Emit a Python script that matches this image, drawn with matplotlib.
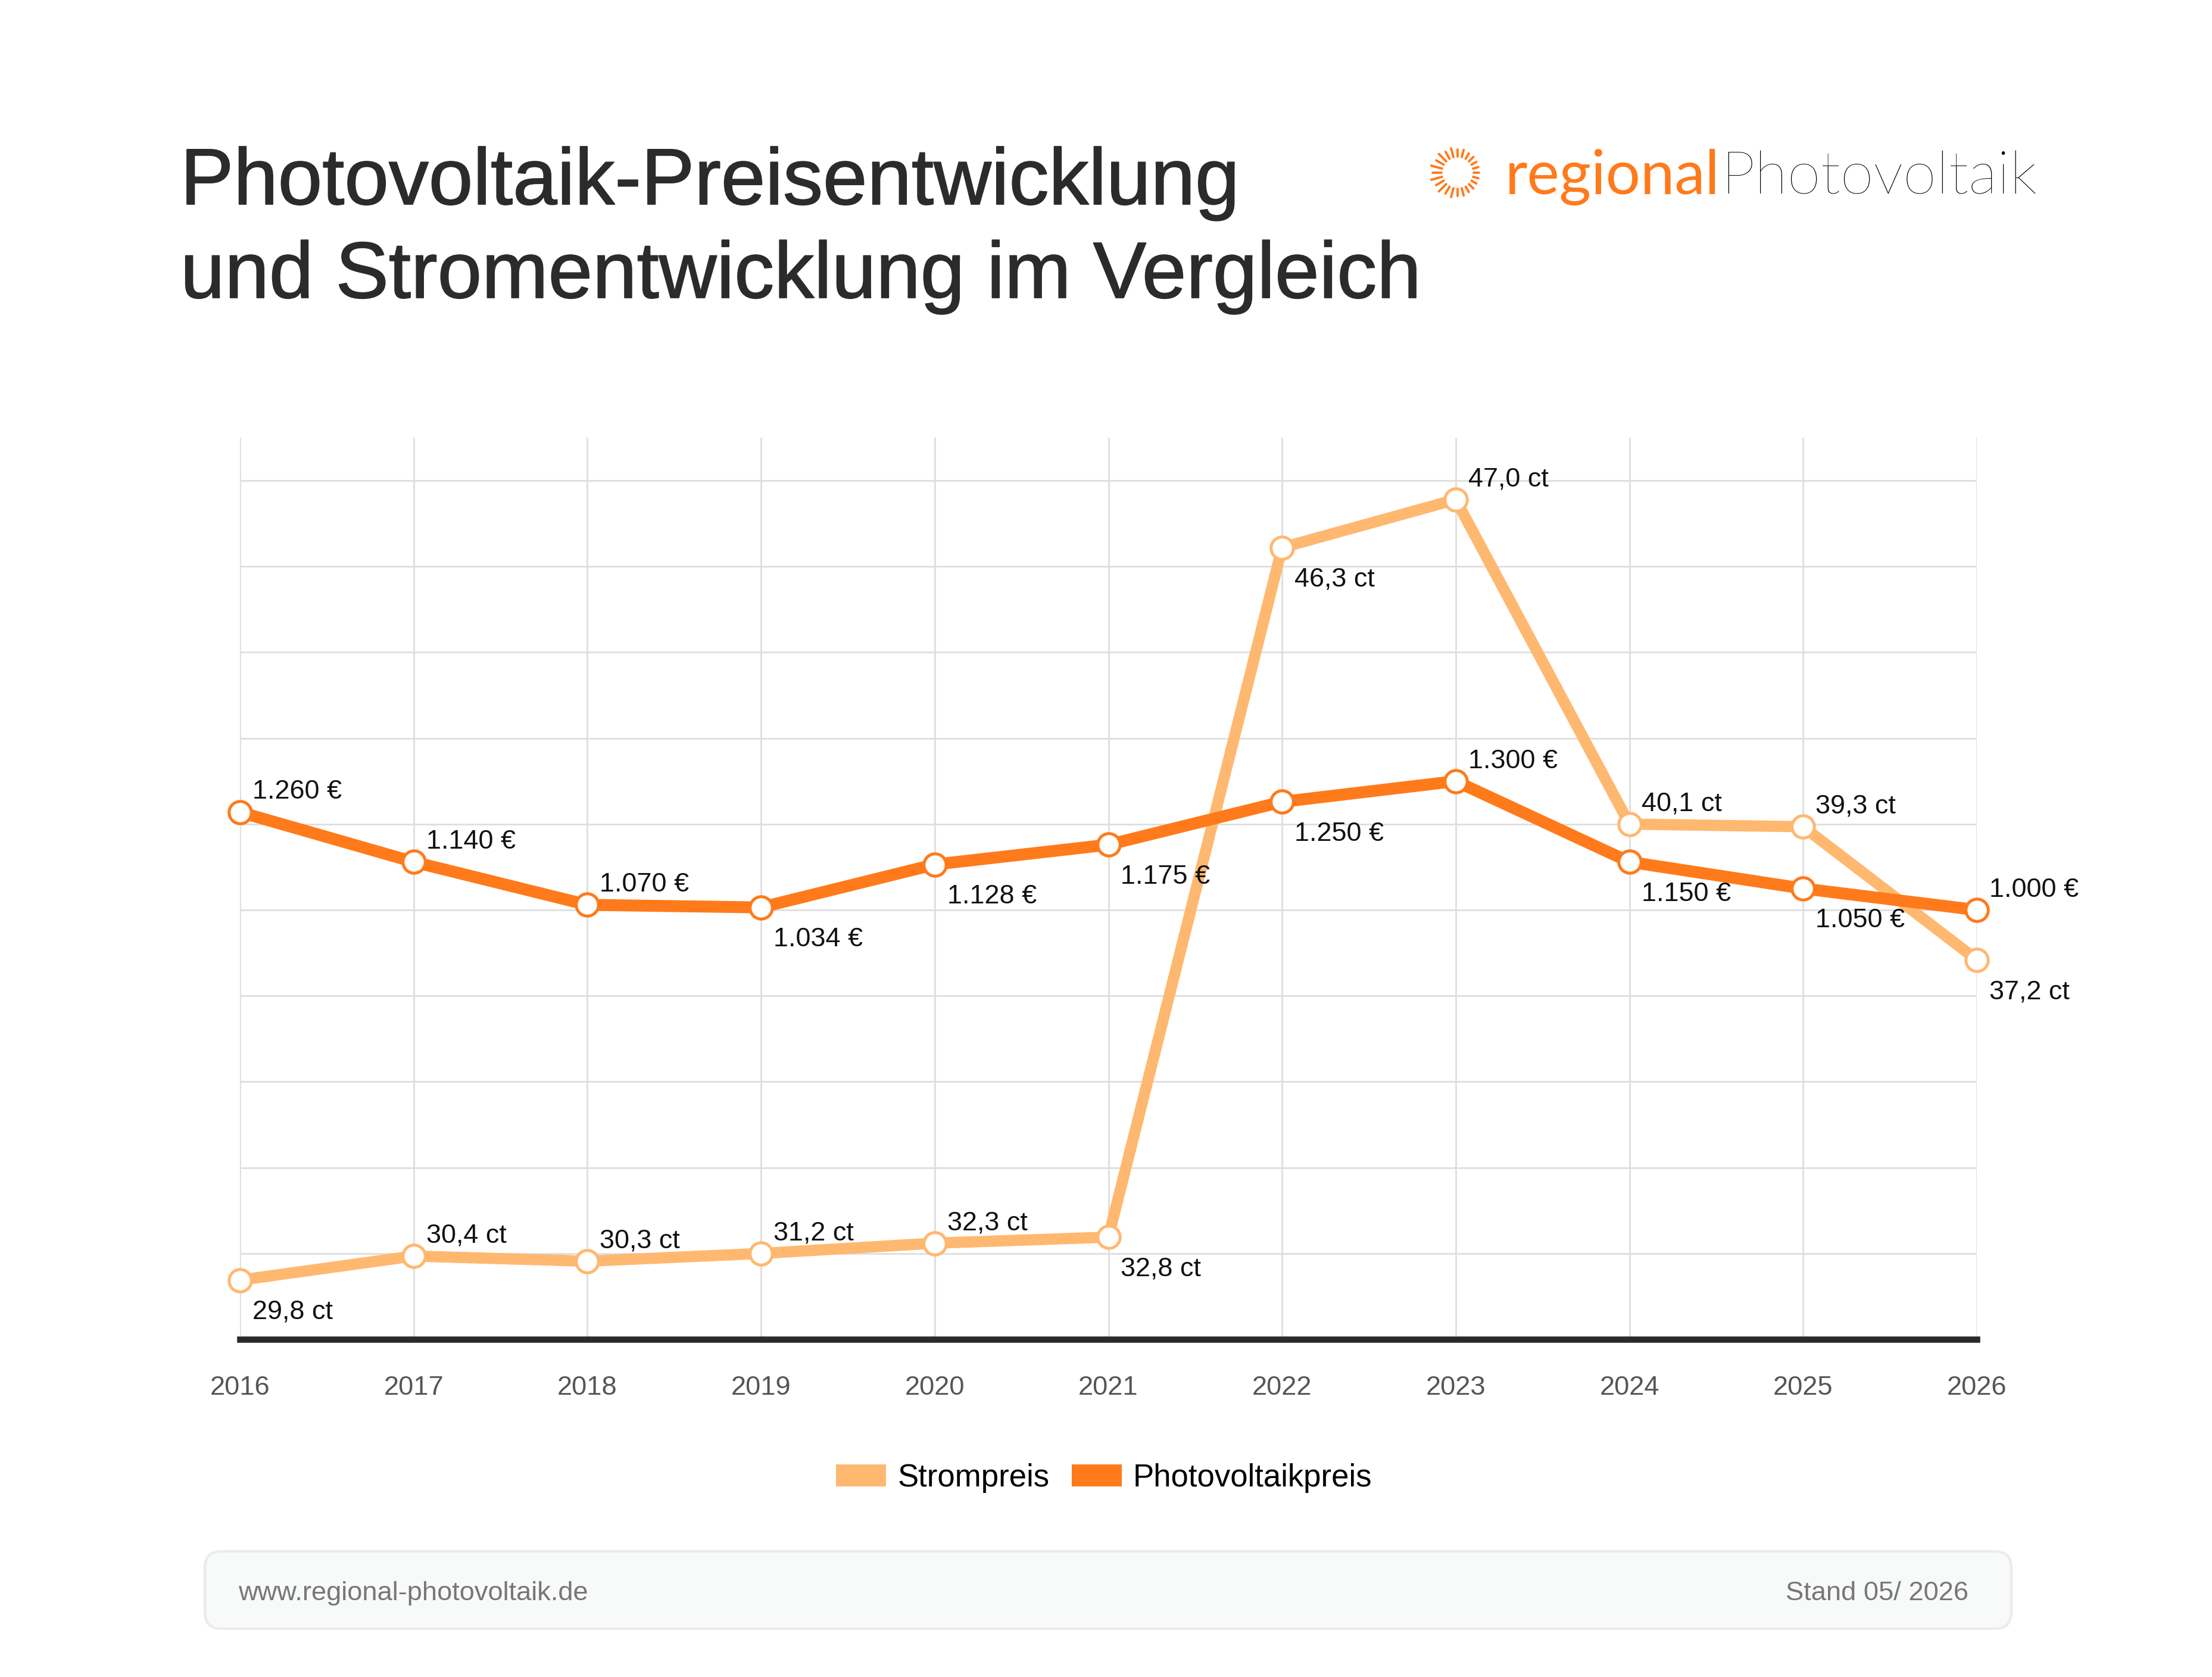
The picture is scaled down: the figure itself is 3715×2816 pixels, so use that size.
import numpy as np
import matplotlib
matplotlib.use("Agg")
import matplotlib.pyplot as plt
import matplotlib.patheffects as pe
from matplotlib.patches import Patch, FancyBboxPatch

# --- data (y values are the plotted positions, labels are the printed values)
years = [2016, 2017, 2018, 2019, 2020, 2021, 2022, 2023, 2024, 2025, 2026]

strom_y = [0.69, 0.97, 0.91, 1.00, 1.12, 1.19, 9.22, 9.78, 6.00, 5.97, 4.42]
strom_labels = ["29,8 ct", "30,4 ct", "30,3 ct", "31,2 ct", "32,3 ct", "32,8 ct",
                "46,3 ct", "47,0 ct", "40,1 ct", "39,3 ct", "37,2 ct"]
strom_side = ["below", "above", "above", "above", "above", "below",
              "below", "above", "above", "above", "below"]

pv_y = [6.14, 5.56, 5.06, 5.03, 5.53, 5.76, 6.26, 6.50, 5.56, 5.25, 5.00]
pv_labels = ["1.260 €", "1.140 €", "1.070 €", "1.034 €", "1.128 €", "1.175 €",
             "1.250 €", "1.300 €", "1.150 €", "1.050 €", "1.000 €"]
pv_side = ["above", "above", "above", "below", "below", "below",
           "below", "above", "below", "below", "above"]

STROM = "#FFB870"
PV = "#FF7A1A"
W, H, DPI = 3716, 2816, 200

plt.rcParams["font.family"] = ["Liberation Sans", "DejaVu Sans"]

fig = plt.figure(figsize=(W / DPI, H / DPI), dpi=DPI, facecolor="white")

# overlay in pixel coordinates for title, logo and footer
bg = fig.add_axes([0, 0, 1, 1], zorder=0)
bg.set_xlim(0, W)
bg.set_ylim(H, 0)
bg.axis("off")

medium = [pe.withStroke(linewidth=0.6, foreground="#2b2b2b")]
bg.text(303, 343, "Photovoltaik-Preisentwicklung", fontsize=48.2,
        color="#2b2b2b", va="baseline", ha="left", path_effects=medium)
bg.text(303, 500, "und Stromentwicklung im Vergleich", fontsize=48.2,
        color="#2b2b2b", va="baseline", ha="left", path_effects=medium)

# logo: sun made of radial dashes
cx, cy = 2448, 290
for i in range(24):
    a = np.deg2rad(i * 15)
    r0 = 27
    r1 = 36 + 10 * (1 + np.cos(a + np.pi)) / 2 * (0.6 + 0.4 * (i % 2))
    bg.plot([cx + r0 * np.cos(a), cx + r1 * np.cos(a)],
            [cy - r0 * np.sin(a), cy - r1 * np.sin(a)],
            color=PV, lw=1.4, solid_capstyle="round")
t1 = bg.text(2528, 326, "regional", fontsize=37, color=PV, va="baseline",
             ha="left", family=["Lato", "DejaVu Sans"])
fig.canvas.draw()
bb = t1.get_window_extent()
bg.text(2528 + bb.width + 2, 326, "Photovoltaik", fontsize=36.5, color="#000000",
        va="baseline", ha="left", family=["Lato", "DejaVu Sans"], fontweight="light")

# footer box
box = FancyBboxPatch((344, 2605), 3034, 130, boxstyle="round,pad=0,rounding_size=28",
                     facecolor="#f8f9f9", edgecolor="#ebebeb", lw=1.5)
bg.add_patch(box)
bg.text(400, 2687, "www.regional-photovoltaik.de", fontsize=16.3, color="#777777",
        va="baseline", ha="left")
bg.text(3306, 2687, "Stand 05/ 2026", fontsize=16.3, color="#777777",
        va="baseline", ha="right")

# main chart
ax = fig.add_axes([403 / W, 1 - 2249 / H, (3320 - 403) / W, (2249 - 735) / H], zorder=1)
ax.patch.set_alpha(0)
ax.set_xlim(years[0], years[-1])
ax.set_ylim(0, 10.5)
for s in ax.spines.values():
    s.set_visible(False)
ax.set_yticks([])
for y in range(1, 11):
    ax.axhline(y, color="#dedede", lw=1.0, zorder=0)
for x in years:
    ax.axvline(x, color="#dedede", lw=1.0, zorder=0)
ax.axhline(0, color="#2a2a2a", lw=3.8, zorder=1, clip_on=False, solid_capstyle="projecting")

ax.set_xticks(years)
ax.set_xticklabels([str(y) for y in years])
ax.tick_params(axis="x", length=0, pad=22, labelsize=16.3, labelcolor="#555555")

ax.plot(years, strom_y, color=STROM, lw=6.8, zorder=3, marker="o", markersize=13.5,
        markerfacecolor="white", markeredgecolor=STROM, markeredgewidth=1.8,
        solid_joinstyle="miter", clip_on=False)
ax.plot(years, pv_y, color=PV, lw=7.2, zorder=4, marker="o", markersize=13.5,
        markerfacecolor="white", markeredgecolor=PV, markeredgewidth=1.8,
        solid_joinstyle="miter", clip_on=False)


def put_labels(xs, ys, labels, sides):
    for x, y, lab, side in zip(xs, ys, labels, sides):
        if side == "above":
            ax.annotate(lab, (x, y), xytext=(7.5, 8), textcoords="offset points",
                        ha="left", va="baseline", fontsize=16.2, color="#111111",
                        zorder=6, annotation_clip=False)
        else:
            ax.annotate(lab, (x, y), xytext=(7.5, -12), textcoords="offset points",
                        ha="left", va="top", fontsize=16.2, color="#111111",
                        zorder=6, annotation_clip=False)


put_labels(years, strom_y, strom_labels, strom_side)
put_labels(years, pv_y, pv_labels, pv_side)

handles = [Patch(facecolor=STROM, edgecolor="none", label="Strompreis"),
           Patch(facecolor=PV, edgecolor="none", label="Photovoltaikpreis")]
fig.legend(handles=handles, loc="center", bbox_to_anchor=(0.499, 1 - 2482 / H), ncol=2,
           frameon=False, fontsize=19, handlelength=1.6, handleheight=0.68,
           handletextpad=0.36, columnspacing=0.7)

fig.savefig("out.png", dpi=DPI, facecolor="white")
